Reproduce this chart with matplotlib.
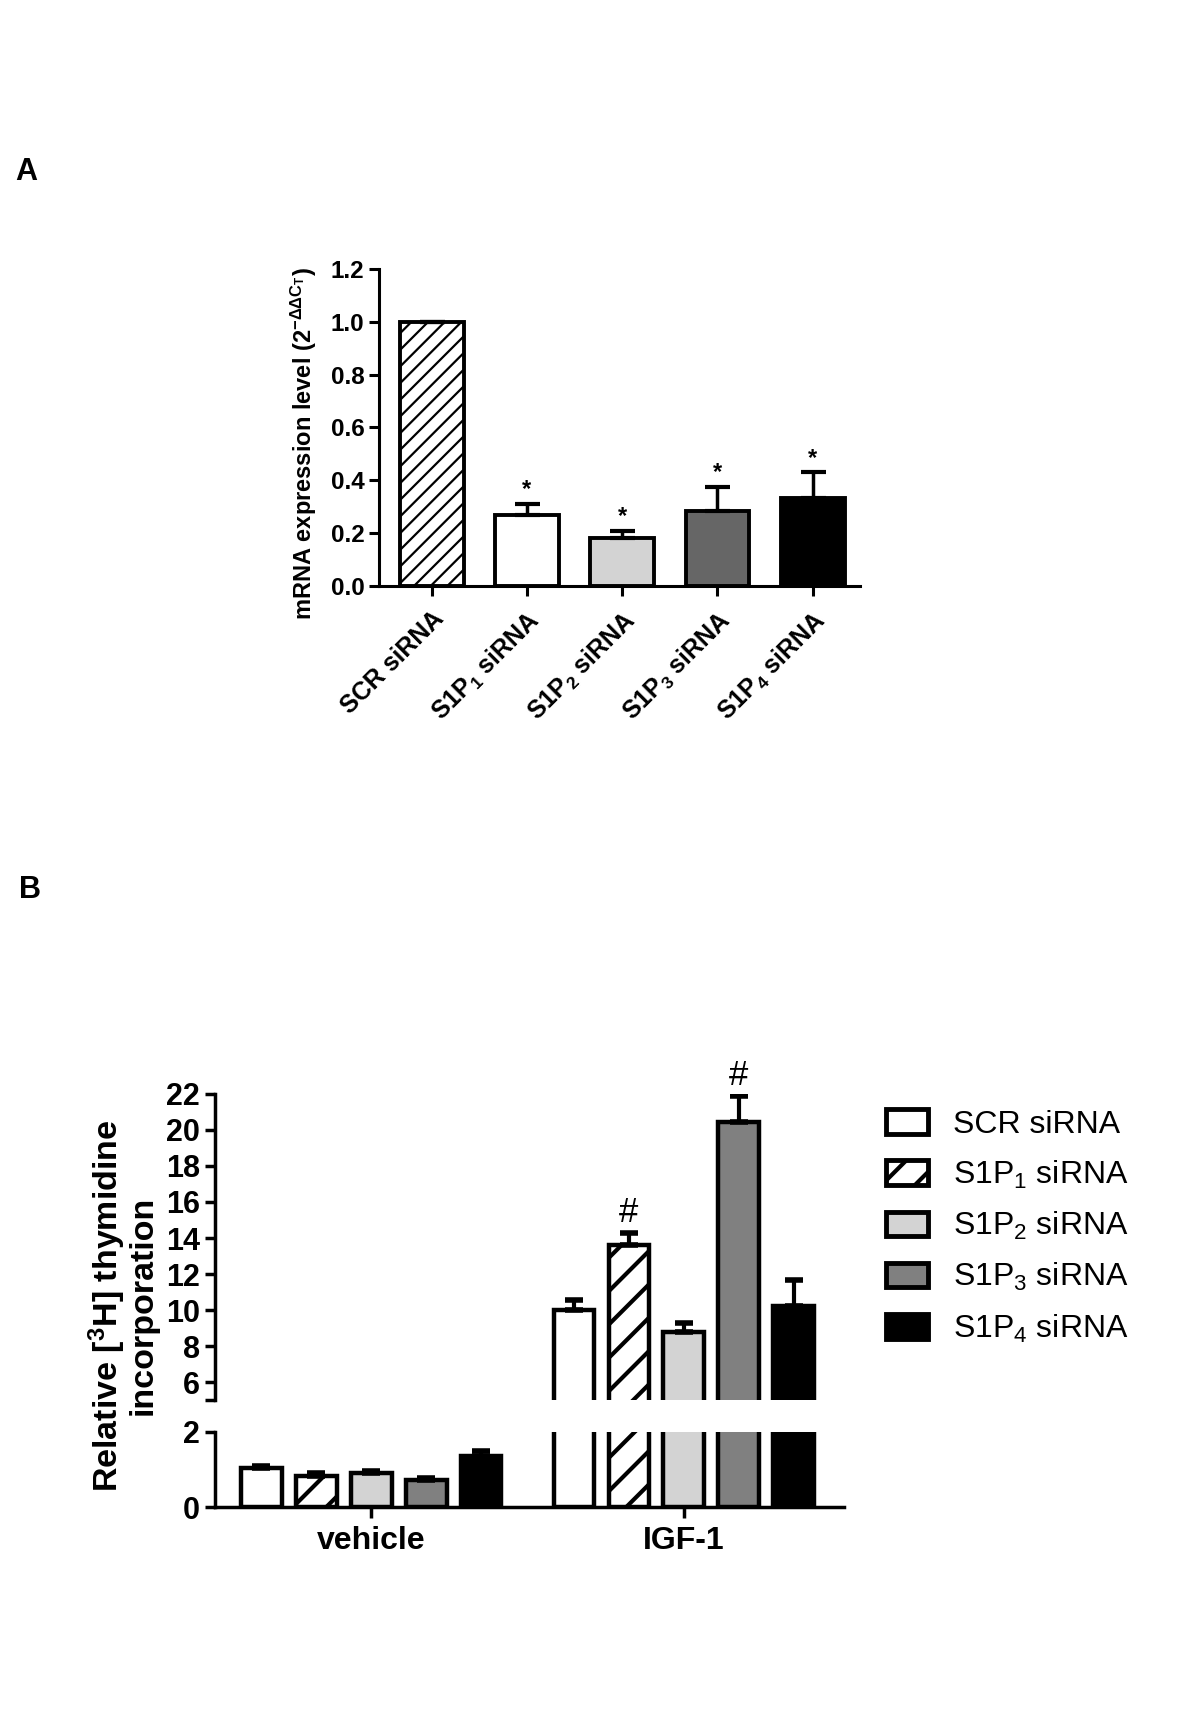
import numpy as np
import matplotlib
matplotlib.use('Agg')
from matplotlib import pyplot as plt
from matplotlib.patches import Patch

plt.rcParams['font.family'] = ['Liberation Sans', 'DejaVu Sans']
plt.rcParams['mathtext.default'] = 'regular'

# panel A: knockdown efficiency
a_labels = ['SCR siRNA', 'S1P$_1$ siRNA', 'S1P$_2$ siRNA', 'S1P$_3$ siRNA', 'S1P$_4$ siRNA']
a_values = [1.0, 0.27, 0.18, 0.285, 0.335]
a_errors = [0.0, 0.04, 0.03, 0.09, 0.095]
a_marks = ['', '*', '*', '*', '*']
a_colors = ['white', 'white', '#d3d3d3', '#666666', 'black']
a_hatches = ['//', '', '', '', '']

# panel B: thymidine incorporation
b_groups = ['vehicle', 'IGF-1']
b_series = ['SCR siRNA', 'S1P$_1$ siRNA', 'S1P$_2$ siRNA', 'S1P$_3$ siRNA', 'S1P$_4$ siRNA']
b_vehicle = [1.03, 0.83, 0.90, 0.72, 1.36]
b_vehicle_err = [0.05, 0.07, 0.05, 0.05, 0.12]
b_igf = [10.0, 13.6, 8.8, 20.45, 10.2]
b_igf_err = [0.55, 0.7, 0.5, 1.45, 1.45]
b_marks = ['', '#', '', '#', '']
b_colors = ['white', 'white', '#d3d3d3', '#808080', 'black']
b_hatches = ['', '/', '', '', '']


def hatch_width(bars, w):
    for p in bars:
        if hasattr(p, 'set_hatch_linewidth'):
            p.set_hatch_linewidth(w)


fig = plt.figure(figsize=(12, 17.34), dpi=100)

# ---------------- panel A ----------------
axA = fig.add_axes([0.316, 0.662, 0.401, 0.183])
xa = np.arange(len(a_values))
bars = axA.bar(xa, a_values, width=0.67, color=a_colors, edgecolor='black',
               linewidth=2.8, hatch=a_hatches, zorder=2)
hatch_width(bars, 1.6)
axA.errorbar(xa, a_values, yerr=[np.zeros(len(a_errors)), a_errors], fmt='none',
             ecolor='black', elinewidth=2.5, capsize=9, capthick=3, zorder=3)
for i, m in enumerate(a_marks):
    if m:
        axA.text(xa[i], a_values[i] + a_errors[i] + 0.01, m, ha='center', va='bottom',
                 fontsize=17, fontweight='bold')
axA.set_xlim(-0.55, 4.5)
axA.set_ylim(0, 1.2)
yt = np.arange(0, 1.21, 0.2)
axA.set_yticks(yt, ['%.1f' % v for v in yt], fontsize=17.5, fontweight='bold')
axA.set_xticks(xa, a_labels, rotation=45, ha='right', rotation_mode='anchor',
               fontsize=18, fontweight='bold')
axA.set_ylabel('mRNA expression level (2$^{-\\Delta\\Delta C_T}$)', fontsize=17,
               fontweight='bold')
axA.yaxis.set_label_coords(-0.125, 0.45)
for s in ['top', 'right']:
    axA.spines[s].set_visible(False)
for s in ['left', 'bottom']:
    axA.spines[s].set_linewidth(2.2)
axA.tick_params(axis='both', direction='out', length=7, width=2.2)
axA.tick_params(axis='x', pad=8)

# ---------------- panel B ----------------
left_b, width_b = 0.179, 0.524
axU = fig.add_axes([left_b, 0.1926, width_b, 0.1765])
axL = fig.add_axes([left_b, 0.1309, width_b, 0.0433])

n = len(b_series)
gap = 5.69
x_veh = np.arange(n)
x_igf = np.arange(n) + gap
xs = np.concatenate([x_veh, x_igf])
vals = np.array(b_vehicle + b_igf)
errs = np.array(b_vehicle_err + b_igf_err)
cols = b_colors + b_colors
hats = b_hatches + b_hatches

for ax in (axU, axL):
    bars = ax.bar(xs, vals, width=0.74, color=cols, edgecolor='black',
                  linewidth=3.2, hatch=hats, zorder=2)
    hatch_width(bars, 3.0)
    ax.errorbar(xs, vals, yerr=[np.zeros(len(errs)), errs], fmt='none',
                ecolor='black', elinewidth=3, capsize=6.5, capthick=4, zorder=3)
    ax.set_xlim(-0.85, 10.6)
    ax.spines['right'].set_visible(False)
    ax.spines['top'].set_visible(False)
    ax.spines['left'].set_linewidth(2.5)
    ax.spines['bottom'].set_linewidth(2.5)
    ax.tick_params(axis='y', direction='out', length=7, width=2.5)

for i, m in enumerate(b_marks):
    if m:
        axU.text(x_igf[i], b_igf[i] + b_igf_err[i] + 0.2, m, ha='center', va='bottom',
                 fontsize=25)

axU.set_ylim(5, 22)
ut = [5] + list(range(6, 23, 2))
axU.set_yticks(ut, [''] + [str(v) for v in ut[1:]], fontsize=22, fontweight='bold')
axU.spines['bottom'].set_visible(False)
axU.set_xticks([])

axL.set_ylim(0, 2)
axL.set_yticks([0, 2], ['0', '2'], fontsize=22, fontweight='bold')
axL.set_xticks([x_veh[2], x_igf[2]], b_groups, fontsize=23, fontweight='bold')
axL.tick_params(axis='x', direction='out', length=8, width=2.5, pad=6)

fig.text(0.102, 0.247, 'Relative [$^3$H] thymidine\nincorporation', rotation=90,
         ha='center', va='center', multialignment='center', fontsize=24.5,
         fontweight='bold', linespacing=1.0)

handles = [Patch(facecolor=c, edgecolor='black', linewidth=3.5, hatch=h)
           for c, h in zip(b_colors, b_hatches)]
leg = fig.legend(handles, b_series, loc='upper left', bbox_to_anchor=(0.733, 0.364),
                 frameon=False, fontsize=23, handlelength=1.3, handleheight=0.8,
                 handletextpad=0.8, labelspacing=0.6, borderaxespad=0, borderpad=0.2)
for p in leg.get_patches():
    if hasattr(p, 'set_hatch_linewidth'):
        p.set_hatch_linewidth(3.0)

# panel letters
fig.text(0.013, 1 - 172 / 1734, 'A', fontsize=22, fontweight='bold', va='center')
fig.text(0.016, 1 - 890 / 1734, 'B', fontsize=22, fontweight='bold', va='center')

plt.savefig('out.png', dpi=100)
